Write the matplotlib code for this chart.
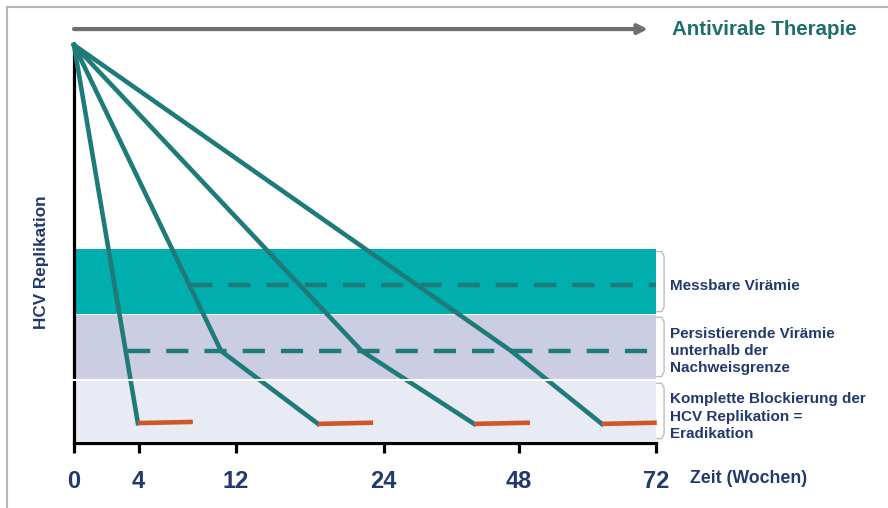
import matplotlib.pyplot as plt
from matplotlib.lines import Line2D

plt.rcParams["font.family"] = ["Liberation Sans", "DejaVu Sans"]

# schematic axis: tick slots are not to scale
tick_pos = [0, 8, 20, 38.3, 55, 72]
tick_labels = ["0", "4", "12", "24", "48", "72"]

# bands (bottom, top) on the replication scale 0..100
band_bottom = [32.4, 16.1, 0.5]
band_top = [48.7, 32.2, 15.6]
band_colors = ["#00AEAD", "#CBCEE3", "#E9EBF4"]
band_texts = ["Messbare Virämie",
              "Persistierende Virämie\nunterhalb der\nNachweisgrenze",
              "Komplette Blockierung der\nHCV Replikation =\nEradikation"]
band_text_y = [39.4, 23.1, 6.6]

# dashed thresholds: level, start
dash_y = [39.7, 23.1]
dash_x0 = [14.3, 6.7]

# decay curves: start, kink, end
curves_x = [[0, 7.9],
            [0, 18.2, 30.2],
            [0, 35.6, 49.5],
            [0, 54.1, 65.3]]
curves_y = [[100, 5.0],
            [100, 23.1, 4.8],
            [100, 23.1, 4.8],
            [100, 23.1, 4.8]]
# eradication plateaus (orange)
plateau_x0 = [7.9, 30.2, 49.5, 65.3]
plateau_x1 = [14.7, 37.0, 56.4, 72.1]
plateau_y0 = [5.0, 4.8, 4.8, 4.8]
plateau_y1 = [5.3, 5.1, 5.1, 5.1]

navy = "#22386E"
teal = "#1F7B7A"
orange = "#CF5628"

fig = plt.figure(figsize=(8.88, 5.08), dpi=100)
ax = fig.add_axes([74/888, 65/508, 582/888, 398/508])
ax.set_xlim(0, 72)
ax.set_ylim(0, 100)

for b0, b1, c in zip(band_bottom, band_top, band_colors):
    ax.axhspan(b0, b1, xmin=0.003, xmax=1, color=c, lw=0, zorder=0)

# white gap between lower bands, also cuts the y axis
ax.plot([-0.6, 72], [15.85, 15.85], color="white", lw=1.5, zorder=4, clip_on=False)

for y, x0 in zip(dash_y, dash_x0):
    ax.plot([x0, 72], [y, y], color=teal, lw=3.2, dashes=(5, 3.6), zorder=2)

for xs, ys in zip(curves_x, curves_y):
    ax.plot(xs, ys, color=teal, lw=3.3, zorder=3, solid_joinstyle="miter", clip_on=False)

for x0, x1, y0, y1 in zip(plateau_x0, plateau_x1, plateau_y0, plateau_y1):
    ax.plot([x0, x1], [y0, y1], color=orange, lw=3.3, zorder=3, solid_capstyle="butt", clip_on=False)

# brackets on the right
for b0, b1, txt, ty in zip(band_bottom, band_top, band_texts, band_text_y):
    yt, yb = b1 - 0.6, b0 + 0.6
    ax.plot([72.1, 72.7, 73.0, 73.0, 72.7, 72.1],
            [yt, yt, yt - 1.2, yb + 1.2, yb, yb],
            color="#BDBDBD", lw=1, clip_on=False)
    ax.text(73.7, ty, txt, color=navy, fontsize=11, fontweight="bold",
            ha="left", va="center", linespacing=1.3, clip_on=False)

# therapy arrow
ax.annotate("", xy=(71.0, 104.0), xytext=(0, 104.0),
            arrowprops=dict(arrowstyle="-|>", color="#707070", lw=3,
                            mutation_scale=14, shrinkA=0, shrinkB=0),
            annotation_clip=False)
ax.text(74.0, 104.0, "Antivirale Therapie", color="#1E6E6C", fontsize=14.8,
        fontweight="bold", ha="left", va="center", clip_on=False)

ax.text(76.2, -9.0, "Zeit (Wochen)", color=navy, fontsize=12.8, fontweight="bold",
        ha="left", va="center", clip_on=False)
ax.text(-4.0, 45.5, "HCV Replikation", color=navy, fontsize=12.3, fontweight="bold",
        rotation=90, ha="center", va="center", clip_on=False)

for s in ["top", "right"]:
    ax.spines[s].set_visible(False)
ax.spines["left"].set_linewidth(2.3)
ax.spines["bottom"].set_linewidth(2.3)
ax.set_yticks([])
ax.set_xticks(tick_pos, tick_labels)
ax.tick_params(axis="x", length=7.5, width=2.3, pad=12, colors="black")
for lbl in ax.get_xticklabels():
    lbl.set_color(navy)
    lbl.set_fontweight("bold")
    lbl.set_fontsize(17)

# thin page frame
fig.add_artist(Line2D([0.0079, 0.0079], [0, 0.986], color="#B5B5B5", lw=1.5))
fig.add_artist(Line2D([0.0079, 1], [0.986, 0.986], color="#B5B5B5", lw=1.5))

fig.savefig("out.png", dpi=100)
